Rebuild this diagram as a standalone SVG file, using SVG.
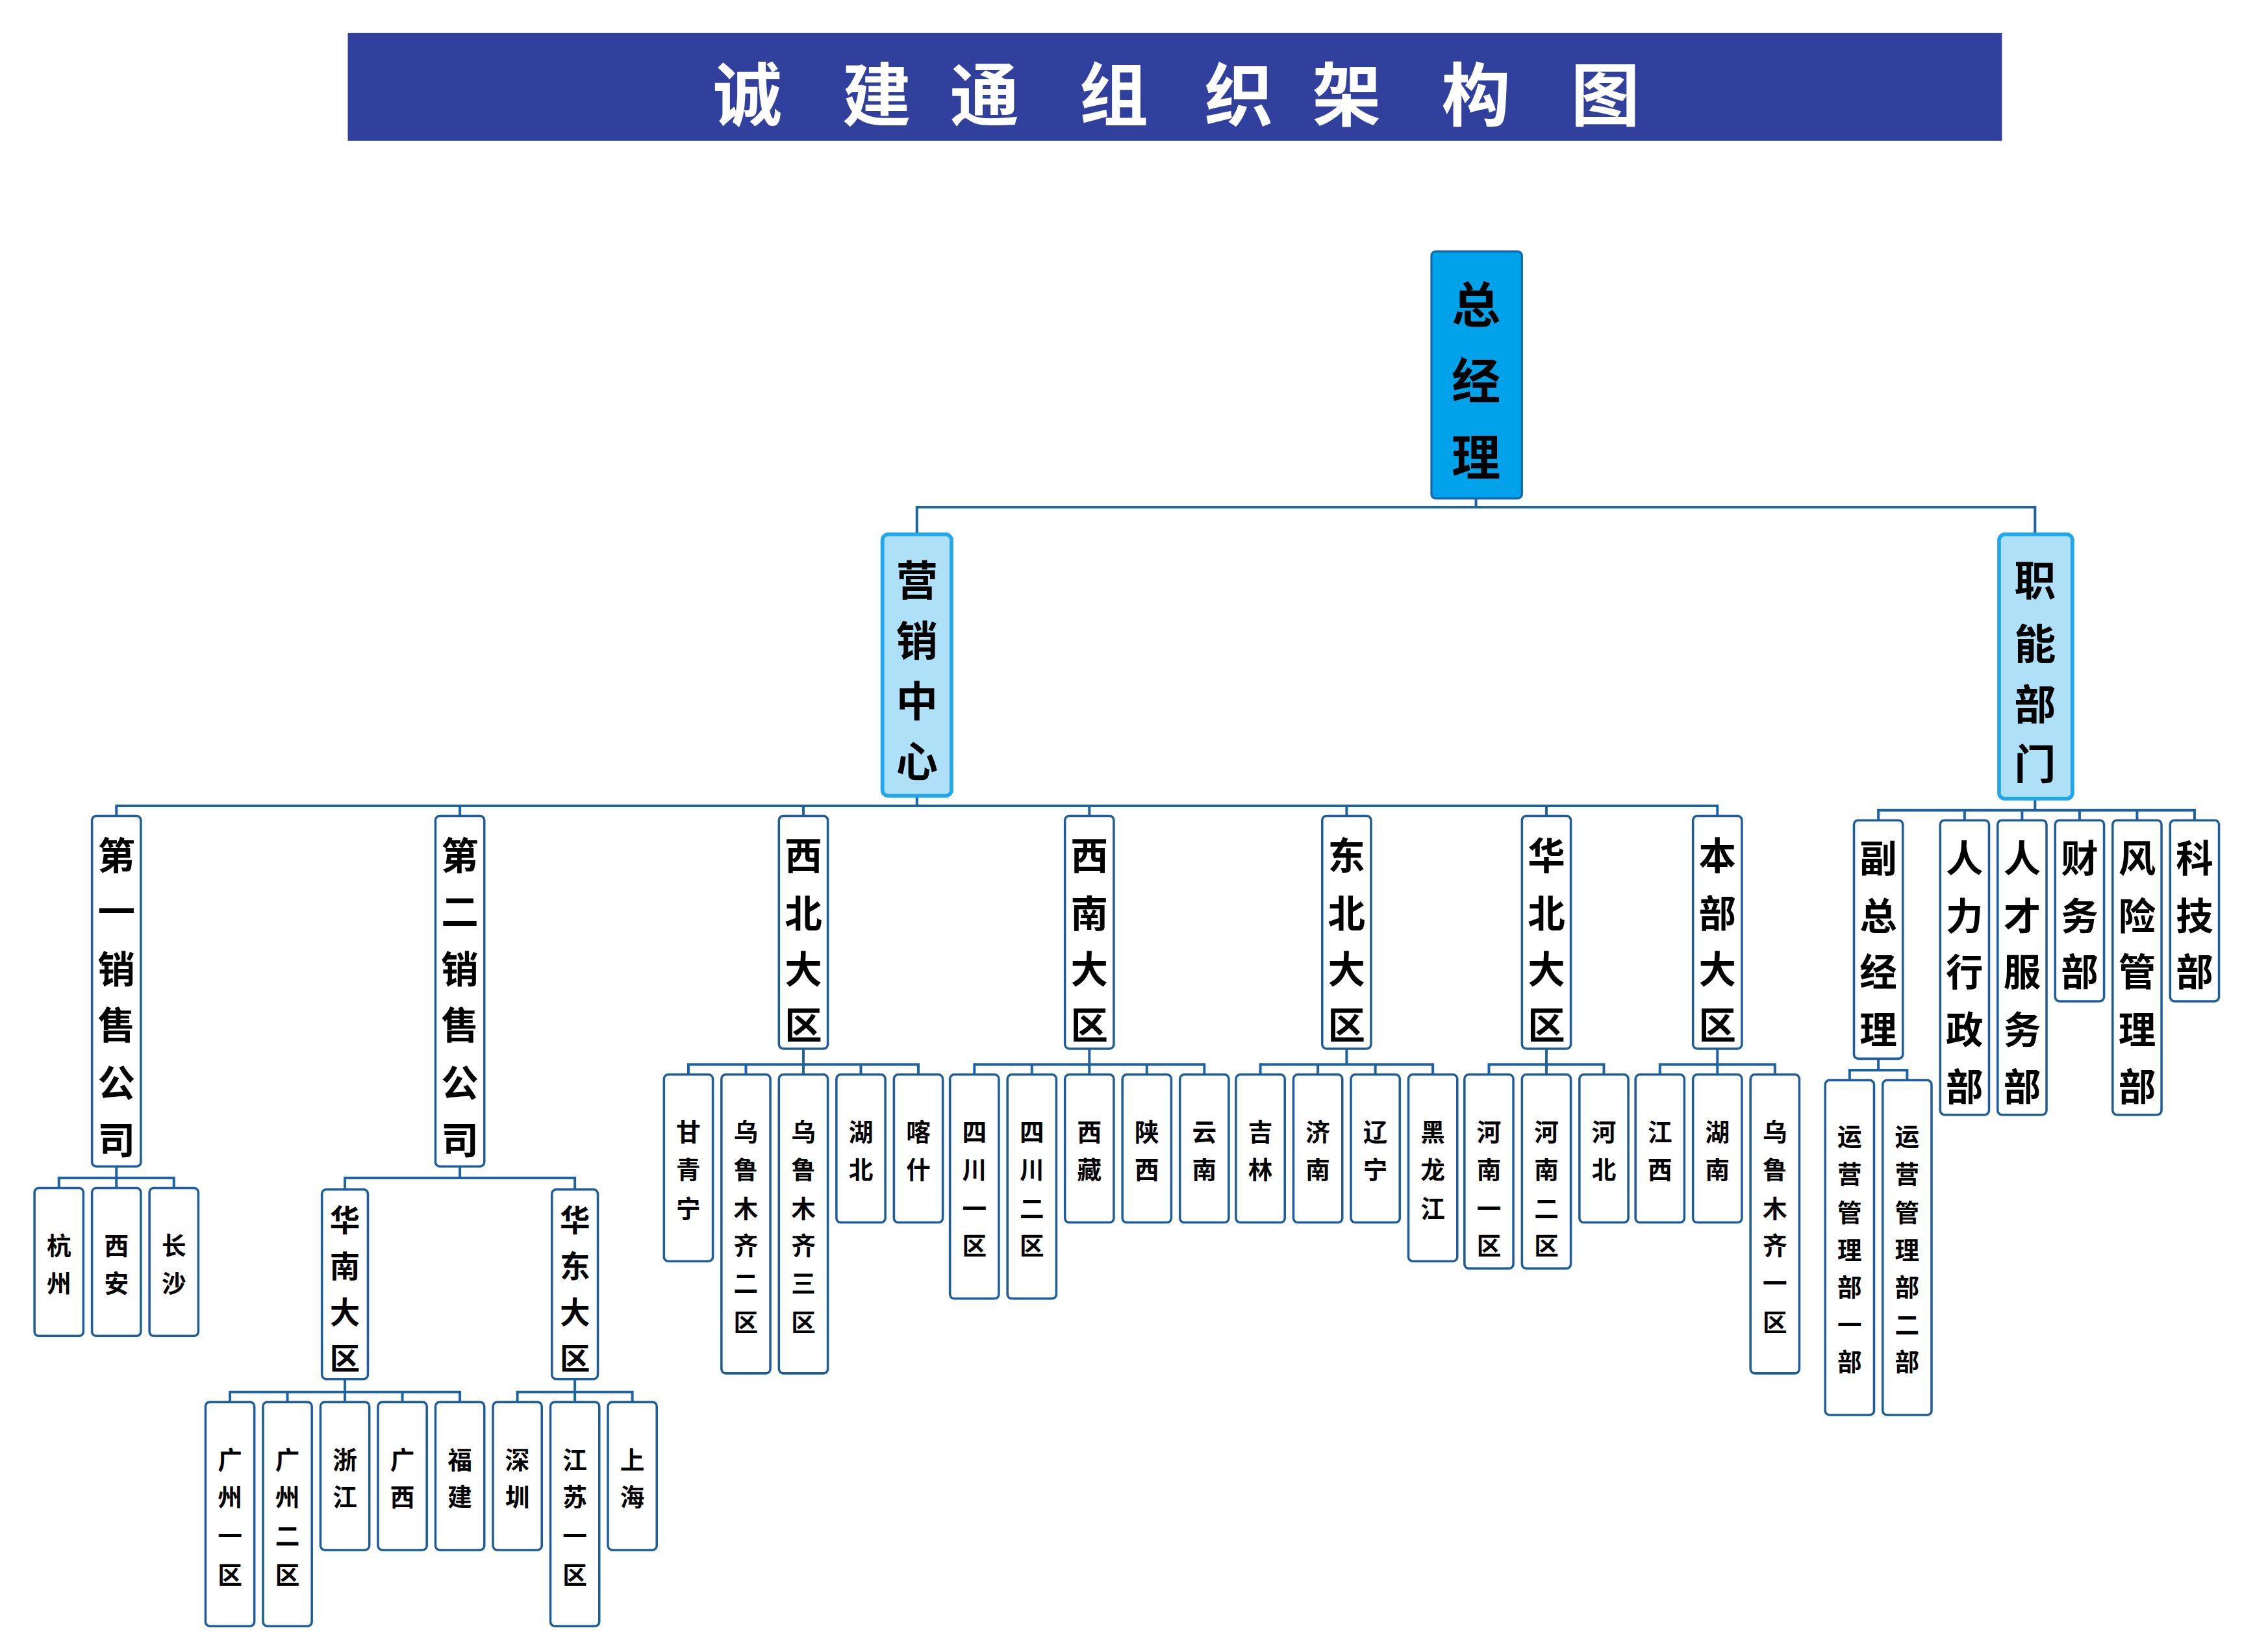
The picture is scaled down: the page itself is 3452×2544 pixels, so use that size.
<svg xmlns="http://www.w3.org/2000/svg" width="3452" height="2544" viewBox="0 0 3452 2544">
<style>
text{font-family:"Noto Sans CJK SC","Liberation Sans",sans-serif;font-weight:bold;text-anchor:middle;dominant-baseline:central;fill:#000}
.t{fill:#fff;font-size:48px}
.b{fill:#fff;stroke:#1e5d9b;stroke-width:1.6}
.top{fill:#00a2ea;stroke:#1565a8;stroke-width:1.4}
.mid{fill:#aee0f8;stroke:#22a8e8;stroke-width:2.6}
.c{fill:none;stroke:#1f62a3;stroke-width:1.8}
.s36{font-size:34px}.s30{font-size:29px}.s27{font-size:26px}.s22{font-size:21px}.s18{font-size:17px}
</style>
<rect width="3452" height="2544" fill="#fff"/>
<g transform="scale(2.2128,2.2122)">
<g id="title"><rect x="242" y="23" width="1151" height="75" fill="#313f9d"/>
<text class="t" x="520" y="63">诚</text><text class="t" x="610" y="63">建</text><text class="t" x="685" y="63">通</text><text class="t" x="775" y="63">组</text><text class="t" x="862" y="63">织</text><text class="t" x="937" y="63">架</text><text class="t" x="1027" y="63">构</text><text class="t" x="1117" y="63">图</text></g>
<g id="connectors">
<path class="c" d="M1027 347V353M638 372V353H1416V372"/>
<path class="c" d="M638 554V561M81 568V561H1195V568M320 561V568M559 561V568M758 561V568M937 561V568M1076 561V568"/>
<path class="c" d="M81 812V820M41 827V820H121V827M81 820V827"/>
<path class="c" d="M320 812V820M240 828V820H400V828"/>
<path class="c" d="M240 960V969M160 976V969H320V976M200 969V976M240 969V976M280 969V976"/>
<path class="c" d="M400 960V969M360 976V969H440V976M400 969V976"/>
<path class="c" d="M559 730V741M479 748V741H639V748M519 741V748M559 741V748M599 741V748"/>
<path class="c" d="M758 730V741M678 748V741H838V748M718 741V748M758 741V748M798 741V748"/>
<path class="c" d="M937 730V741M877 748V741H997V748M917 741V748M957 741V748"/>
<path class="c" d="M1076 730V741M1036 748V741H1116V748M1076 741V748"/>
<path class="c" d="M1195 730V741M1155 748V741H1235V748M1195 741V748"/>
<path class="c" d="M1416 556V564M1307 571V564H1527V571M1367 564V571M1407 564V571M1447 564V571M1487 564V571"/>
<path class="c" d="M1307 737V745M1287 752V745H1327V752"/>
</g>
<g id="n_zjl"><rect class="top" x="996" y="175" width="63" height="172" rx="3"/><text class="s36" x="1027" y="210">总</text><text class="s36" x="1027" y="263">经</text><text class="s36" x="1027" y="316">理</text></g>
<g id="n_yxzx"><rect class="mid" x="614" y="372" width="48" height="182" rx="4"/><text class="s30" x="638" y="402">营</text><text class="s30" x="638" y="444">销</text><text class="s30" x="638" y="486">中</text><text class="s30" x="638" y="528">心</text></g>
<g id="n_znbm"><rect class="mid" x="1391" y="372" width="51" height="184" rx="4"/><text class="s30" x="1416" y="402">职</text><text class="s30" x="1416" y="446">能</text><text class="s30" x="1416" y="488">部</text><text class="s30" x="1416" y="530">门</text></g>
<g id="n_d1"><rect class="b" x="64" y="568" width="34" height="244" rx="3"/><text class="s27" x="81" y="594">第</text><text class="s27" x="81" y="633">一</text><text class="s27" x="81" y="673">销</text><text class="s27" x="81" y="712">售</text><text class="s27" x="81" y="752">公</text><text class="s27" x="81" y="792">司</text></g>
<g id="n_d2"><rect class="b" x="303" y="568" width="34" height="244" rx="3"/><text class="s27" x="320" y="594">第</text><text class="s27" x="320" y="633">二</text><text class="s27" x="320" y="673">销</text><text class="s27" x="320" y="712">售</text><text class="s27" x="320" y="752">公</text><text class="s27" x="320" y="792">司</text></g>
<g id="n_xb"><rect class="b" x="542" y="568" width="34" height="162" rx="3"/><text class="s27" x="559" y="594">西</text><text class="s27" x="559" y="634">北</text><text class="s27" x="559" y="673">大</text><text class="s27" x="559" y="712">区</text></g>
<g id="n_xn"><rect class="b" x="741" y="568" width="34" height="162" rx="3"/><text class="s27" x="758" y="594">西</text><text class="s27" x="758" y="634">南</text><text class="s27" x="758" y="673">大</text><text class="s27" x="758" y="712">区</text></g>
<g id="n_db"><rect class="b" x="920" y="568" width="34" height="162" rx="3"/><text class="s27" x="937" y="594">东</text><text class="s27" x="937" y="634">北</text><text class="s27" x="937" y="673">大</text><text class="s27" x="937" y="712">区</text></g>
<g id="n_hb"><rect class="b" x="1059" y="568" width="34" height="162" rx="3"/><text class="s27" x="1076" y="594">华</text><text class="s27" x="1076" y="634">北</text><text class="s27" x="1076" y="673">大</text><text class="s27" x="1076" y="712">区</text></g>
<g id="n_bb"><rect class="b" x="1178" y="568" width="34" height="162" rx="3"/><text class="s27" x="1195" y="594">本</text><text class="s27" x="1195" y="634">部</text><text class="s27" x="1195" y="673">大</text><text class="s27" x="1195" y="712">区</text></g>
<g id="n_hz"><rect class="b" x="24" y="827" width="34" height="103" rx="3"/><text class="s18" x="41" y="866">杭</text><text class="s18" x="41" y="892">州</text></g>
<g id="n_xa"><rect class="b" x="64" y="827" width="34" height="103" rx="3"/><text class="s18" x="81" y="866">西</text><text class="s18" x="81" y="892">安</text></g>
<g id="n_cs"><rect class="b" x="104" y="827" width="34" height="103" rx="3"/><text class="s18" x="121" y="866">长</text><text class="s18" x="121" y="892">沙</text></g>
<g id="n_hn"><rect class="b" x="224" y="828" width="32" height="132" rx="3"/><text class="s22" x="240" y="848">华</text><text class="s22" x="240" y="880">南</text><text class="s22" x="240" y="912">大</text><text class="s22" x="240" y="944">区</text></g>
<g id="n_hd"><rect class="b" x="384" y="828" width="32" height="132" rx="3"/><text class="s22" x="400" y="848">华</text><text class="s22" x="400" y="880">东</text><text class="s22" x="400" y="912">大</text><text class="s22" x="400" y="944">区</text></g>
<g id="n_gz1"><rect class="b" x="143" y="976" width="34" height="156" rx="3"/><text class="s18" x="160" y="1015">广</text><text class="s18" x="160" y="1041">州</text><text class="s18" x="160" y="1068">一</text><text class="s18" x="160" y="1095">区</text></g>
<g id="n_gz2"><rect class="b" x="183" y="976" width="34" height="156" rx="3"/><text class="s18" x="200" y="1015">广</text><text class="s18" x="200" y="1041">州</text><text class="s18" x="200" y="1068">二</text><text class="s18" x="200" y="1095">区</text></g>
<g id="n_zj"><rect class="b" x="223" y="976" width="34" height="103" rx="3"/><text class="s18" x="240" y="1015">浙</text><text class="s18" x="240" y="1041">江</text></g>
<g id="n_gx"><rect class="b" x="263" y="976" width="34" height="103" rx="3"/><text class="s18" x="280" y="1015">广</text><text class="s18" x="280" y="1041">西</text></g>
<g id="n_fj"><rect class="b" x="303" y="976" width="34" height="103" rx="3"/><text class="s18" x="320" y="1015">福</text><text class="s18" x="320" y="1041">建</text></g>
<g id="n_sz"><rect class="b" x="343" y="976" width="34" height="103" rx="3"/><text class="s18" x="360" y="1015">深</text><text class="s18" x="360" y="1041">圳</text></g>
<g id="n_js1"><rect class="b" x="383" y="976" width="34" height="156" rx="3"/><text class="s18" x="400" y="1015">江</text><text class="s18" x="400" y="1041">苏</text><text class="s18" x="400" y="1068">一</text><text class="s18" x="400" y="1095">区</text></g>
<g id="n_sh"><rect class="b" x="423" y="976" width="34" height="103" rx="3"/><text class="s18" x="440" y="1015">上</text><text class="s18" x="440" y="1041">海</text></g>
<g id="n_gqn"><rect class="b" x="462" y="748" width="34" height="130" rx="3"/><text class="s18" x="479" y="787">甘</text><text class="s18" x="479" y="813">青</text><text class="s18" x="479" y="840">宁</text></g>
<g id="n_wl2"><rect class="b" x="502" y="748" width="34" height="208" rx="3"/><text class="s18" x="519" y="787">乌</text><text class="s18" x="519" y="813">鲁</text><text class="s18" x="519" y="840">木</text><text class="s18" x="519" y="866">齐</text><text class="s18" x="519" y="892">二</text><text class="s18" x="519" y="919">区</text></g>
<g id="n_wl3"><rect class="b" x="542" y="748" width="34" height="208" rx="3"/><text class="s18" x="559" y="787">乌</text><text class="s18" x="559" y="813">鲁</text><text class="s18" x="559" y="840">木</text><text class="s18" x="559" y="866">齐</text><text class="s18" x="559" y="892">三</text><text class="s18" x="559" y="919">区</text></g>
<g id="n_hub"><rect class="b" x="582" y="748" width="34" height="103" rx="3"/><text class="s18" x="599" y="787">湖</text><text class="s18" x="599" y="813">北</text></g>
<g id="n_ks"><rect class="b" x="622" y="748" width="34" height="103" rx="3"/><text class="s18" x="639" y="787">喀</text><text class="s18" x="639" y="813">什</text></g>
<g id="n_sc1"><rect class="b" x="661" y="748" width="34" height="156" rx="3"/><text class="s18" x="678" y="787">四</text><text class="s18" x="678" y="813">川</text><text class="s18" x="678" y="840">一</text><text class="s18" x="678" y="866">区</text></g>
<g id="n_sc2"><rect class="b" x="701" y="748" width="34" height="156" rx="3"/><text class="s18" x="718" y="787">四</text><text class="s18" x="718" y="813">川</text><text class="s18" x="718" y="840">二</text><text class="s18" x="718" y="866">区</text></g>
<g id="n_xz"><rect class="b" x="741" y="748" width="34" height="103" rx="3"/><text class="s18" x="758" y="787">西</text><text class="s18" x="758" y="813">藏</text></g>
<g id="n_sx"><rect class="b" x="781" y="748" width="34" height="103" rx="3"/><text class="s18" x="798" y="787">陕</text><text class="s18" x="798" y="813">西</text></g>
<g id="n_yn"><rect class="b" x="821" y="748" width="34" height="103" rx="3"/><text class="s18" x="838" y="787">云</text><text class="s18" x="838" y="813">南</text></g>
<g id="n_jl"><rect class="b" x="860" y="748" width="34" height="103" rx="3"/><text class="s18" x="877" y="787">吉</text><text class="s18" x="877" y="813">林</text></g>
<g id="n_jn"><rect class="b" x="900" y="748" width="34" height="103" rx="3"/><text class="s18" x="917" y="787">济</text><text class="s18" x="917" y="813">南</text></g>
<g id="n_ln"><rect class="b" x="940" y="748" width="34" height="103" rx="3"/><text class="s18" x="957" y="787">辽</text><text class="s18" x="957" y="813">宁</text></g>
<g id="n_hlj"><rect class="b" x="980" y="748" width="34" height="130" rx="3"/><text class="s18" x="997" y="787">黑</text><text class="s18" x="997" y="813">龙</text><text class="s18" x="997" y="840">江</text></g>
<g id="n_hen1"><rect class="b" x="1019" y="748" width="34" height="135" rx="3"/><text class="s18" x="1036" y="787">河</text><text class="s18" x="1036" y="813">南</text><text class="s18" x="1036" y="840">一</text><text class="s18" x="1036" y="866">区</text></g>
<g id="n_hen2"><rect class="b" x="1059" y="748" width="34" height="135" rx="3"/><text class="s18" x="1076" y="787">河</text><text class="s18" x="1076" y="813">南</text><text class="s18" x="1076" y="840">二</text><text class="s18" x="1076" y="866">区</text></g>
<g id="n_heb"><rect class="b" x="1099" y="748" width="34" height="103" rx="3"/><text class="s18" x="1116" y="787">河</text><text class="s18" x="1116" y="813">北</text></g>
<g id="n_jx"><rect class="b" x="1138" y="748" width="34" height="103" rx="3"/><text class="s18" x="1155" y="787">江</text><text class="s18" x="1155" y="813">西</text></g>
<g id="n_hun"><rect class="b" x="1178" y="748" width="34" height="103" rx="3"/><text class="s18" x="1195" y="787">湖</text><text class="s18" x="1195" y="813">南</text></g>
<g id="n_wl1"><rect class="b" x="1218" y="748" width="34" height="208" rx="3"/><text class="s18" x="1235" y="787">乌</text><text class="s18" x="1235" y="813">鲁</text><text class="s18" x="1235" y="840">木</text><text class="s18" x="1235" y="866">齐</text><text class="s18" x="1235" y="892">一</text><text class="s18" x="1235" y="919">区</text></g>
<g id="n_fzjl"><rect class="b" x="1290" y="571" width="34" height="166" rx="3"/><text class="s27" x="1307" y="596">副</text><text class="s27" x="1307" y="636">总</text><text class="s27" x="1307" y="675">经</text><text class="s27" x="1307" y="715">理</text></g>
<g id="n_rlxz"><rect class="b" x="1350" y="571" width="34" height="205" rx="3"/><text class="s27" x="1367" y="596">人</text><text class="s27" x="1367" y="636">力</text><text class="s27" x="1367" y="675">行</text><text class="s27" x="1367" y="715">政</text><text class="s27" x="1367" y="755">部</text></g>
<g id="n_rcfw"><rect class="b" x="1390" y="571" width="34" height="205" rx="3"/><text class="s27" x="1407" y="596">人</text><text class="s27" x="1407" y="636">才</text><text class="s27" x="1407" y="675">服</text><text class="s27" x="1407" y="715">务</text><text class="s27" x="1407" y="755">部</text></g>
<g id="n_cw"><rect class="b" x="1430" y="571" width="34" height="126" rx="3"/><text class="s27" x="1447" y="596">财</text><text class="s27" x="1447" y="636">务</text><text class="s27" x="1447" y="675">部</text></g>
<g id="n_fx"><rect class="b" x="1470" y="571" width="34" height="205" rx="3"/><text class="s27" x="1487" y="596">风</text><text class="s27" x="1487" y="636">险</text><text class="s27" x="1487" y="675">管</text><text class="s27" x="1487" y="715">理</text><text class="s27" x="1487" y="755">部</text></g>
<g id="n_kj"><rect class="b" x="1510" y="571" width="34" height="126" rx="3"/><text class="s27" x="1527" y="596">科</text><text class="s27" x="1527" y="636">技</text><text class="s27" x="1527" y="675">部</text></g>
<g id="n_yy1"><rect class="b" x="1270" y="752" width="34" height="233" rx="3"/><text class="s18" x="1287" y="790">运</text><text class="s18" x="1287" y="816">营</text><text class="s18" x="1287" y="843">管</text><text class="s18" x="1287" y="869">理</text><text class="s18" x="1287" y="895">部</text><text class="s18" x="1287" y="921">一</text><text class="s18" x="1287" y="947">部</text></g>
<g id="n_yy2"><rect class="b" x="1310" y="752" width="34" height="233" rx="3"/><text class="s18" x="1327" y="790">运</text><text class="s18" x="1327" y="816">营</text><text class="s18" x="1327" y="843">管</text><text class="s18" x="1327" y="869">理</text><text class="s18" x="1327" y="895">部</text><text class="s18" x="1327" y="921">二</text><text class="s18" x="1327" y="947">部</text></g>
</g>
</svg>
